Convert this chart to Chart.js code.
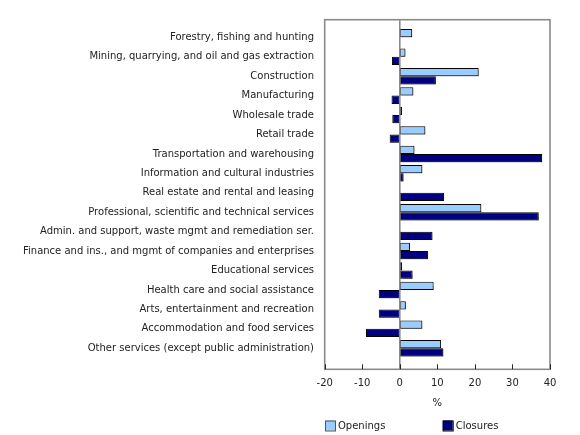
<!DOCTYPE html>
<html>
<head>
<meta charset="utf-8">
<script src="https://cdn.jsdelivr.net/npm/chart.js@4.4.1/dist/chart.umd.min.js"></script>
<style>
  html, body { margin: 0; padding: 0; background: #ffffff; }
  #wrap { width: 580px; height: 435px; position: relative; }
</style>
</head>
<body>
<div id="wrap"><canvas id="c" width="580" height="435"></canvas></div>
<script>
const categories = [
  "Forestry, fishing and hunting",
  "Mining, quarrying, and oil and gas extraction",
  "Construction",
  "Manufacturing",
  "Wholesale trade",
  "Retail trade",
  "Transportation and warehousing",
  "Information and cultural industries",
  "Real estate and rental and leasing",
  "Professional, scientific and technical services",
  "Admin. and support, waste mgmt and remediation ser.",
  "Finance and ins., and mgmt of companies and enterprises",
  "Educational services",
  "Health care and social assistance",
  "Arts, entertainment and recreation",
  "Accommodation and food services",
  "Other services (except public administration)"
];
const openings = [3.3, 1.5, 21.0, 3.6, 0.6, 6.8, 3.9, 6.0, 0.1, 21.7, 0.1, 2.7, 0.6, 9.0, 1.6, 6.0, 11.0];
const closures = [-0.2, -2.1, 9.6, -2.2, -2.0, -2.7, 37.9, 1.0, 11.8, 37.0, 8.7, 7.5, 3.4, -5.6, -5.6, -9.0, 11.6];
const seriesNames = ["Openings", "Closures"];
const xTicks = [-20, -10, 0, 10, 20, 30, 40];
const xTitle = "%";

const FONT = "'DejaVu Sans', Verdana, sans-serif";
const FSIZE = 10;
const TEXT = "#222222";
const FRAME = "#8a8a8a";

const shadowPlugin = {
  id: 'barShadow',
  beforeDatasetDraw(chart) {
    const ctx = chart.ctx;
    ctx.save();
    ctx.shadowColor = 'rgba(0,0,0,0.35)';
    ctx.shadowOffsetX = 1;
    ctx.shadowOffsetY = 1;
    ctx.shadowBlur = 1;
  },
  afterDatasetDraw(chart) {
    chart.ctx.restore();
  }
};

const framePlugin = {
  id: 'frame',
  afterDatasetsDraw(chart, args, opts) {
    const {ctx, chartArea: a} = chart;
    const xs = chart.scales.x;
    const top = a.top - opts.extraTop;
    const bottom = a.bottom + opts.extraBottom;
    ctx.save();
    const x0 = xs.getPixelForValue(0);
    ctx.strokeStyle = FRAME;
    ctx.lineWidth = 1.6;
    ctx.beginPath();
    ctx.moveTo(x0, top);
    ctx.lineTo(x0, bottom);
    ctx.stroke();
    ctx.strokeRect(a.left, top, a.right - a.left, bottom - top);
    ctx.strokeStyle = '#222';
    ctx.lineWidth = 1;
    xTicks.forEach(v => {
      const px = Math.round(xs.getPixelForValue(v)) + 0.5;
      ctx.beginPath();
      ctx.moveTo(px, bottom);
      ctx.lineTo(px, bottom - 5);
      ctx.stroke();
    });
    ctx.restore();
  }
};

const legendPlugin = {
  id: 'customLegend',
  afterDraw(chart, args, opts) {
    const {ctx, chartArea: a} = chart;
    ctx.save();
    ctx.font = FSIZE + 'px ' + FONT;
    ctx.textBaseline = 'middle';
    ctx.textAlign = 'left';
    chart.data.datasets.forEach((ds, i) => {
      const x = a.left + opts.offsets[i];
      const y = opts.y;
      ctx.fillStyle = ds.backgroundColor;
      ctx.fillRect(x, y - 5, 10, 10);
      ctx.strokeStyle = opts.borders[i];
      ctx.lineWidth = 1;
      ctx.strokeRect(x + 0.5, y - 4.5, 10, 10);
      ctx.fillStyle = TEXT;
      ctx.fillText(ds.label, x + 13, y + 0.5);
    });
    ctx.restore();
  }
};

new Chart(document.getElementById('c'), {
  type: 'bar',
  data: {
    labels: categories,
    datasets: [
      { label: seriesNames[0], data: openings, backgroundColor: '#99ccff', borderColor: '#000000', borderWidth: 1, borderSkipped: false },
      { label: seriesNames[1], data: closures, backgroundColor: '#000080', borderColor: '#000000', borderWidth: 1, borderSkipped: false }
    ]
  },
  options: {
    indexAxis: 'y',
    responsive: false,
    animation: false,
    devicePixelRatio: 1,
    layout: { padding: { left: 0, right: 30, top: 27.6, bottom: 0 } },
    datasets: { bar: { categoryPercentage: 0.85, barPercentage: 1.0 } },
    scales: {
      x: {
        min: -20, max: 40,
        afterBuildTicks: s => { s.ticks = xTicks.map(v => ({ value: v })); },
        afterFit: s => { s.height = 77; },
        grid: { display: false, drawTicks: false },
        border: { display: false },
        ticks: { padding: 19.5, color: TEXT, font: { family: FONT, size: FSIZE } },
        title: { display: true, text: xTitle, color: TEXT, font: { family: FONT, size: FSIZE }, padding: { top: 0, bottom: 25.5 } }
      },
      y: {
        afterFit: s => { s.width = 324.7; },
        grid: { display: false, drawTicks: false },
        border: { display: false },
        ticks: { padding: 10.7, color: TEXT, font: { family: FONT, size: FSIZE }, autoSkip: false }
      }
    },
    plugins: {
      legend: { display: false },
      tooltip: { enabled: false },
      frame: { extraTop: 7.9, extraBottom: 11.3 },
      customLegend: { offsets: [0.3, 118], y: 425.5, borders: ['#555555', '#000000'] }
    }
  },
  plugins: [shadowPlugin, framePlugin, legendPlugin]
});
</script>
</body>
</html>
